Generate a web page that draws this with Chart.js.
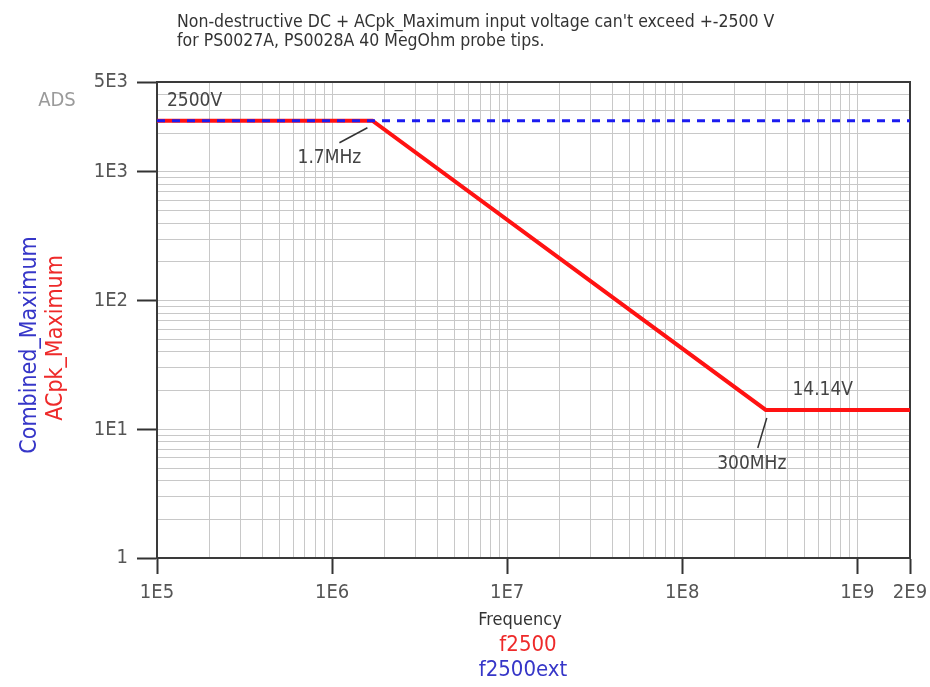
<!DOCTYPE html>
<html>
<head>
<meta charset="utf-8">
<script src="https://cdn.jsdelivr.net/npm/chart.js@4/dist/chart.umd.min.js"></script>
<style>
html, body { margin: 0; padding: 0; background: #fff; }
#wrap { width: 930px; height: 687px; }
</style>
</head>
<body>
<div id="wrap"><canvas id="chart"></canvas></div>
<script>
// red curve: ACpk_Maximum (f2500)
var redFreq = [1e5, 1.7e6, 3e8, 2e9];
var redVolt = [2500, 2500, 14.14, 14.14];
// blue dashed: Combined_Maximum (f2500ext)
var blueFreq = [1e5, 2e9];
var blueVolt = [2500, 2500];

var xTickValues = [1e5, 1e6, 1e7, 1e8, 1e9, 2e9];
var xTickLabels = ['1E5', '1E6', '1E7', '1E8', '1E9', '2E9'];
var yTickValues = [1, 10, 100, 1000, 5000];
var yTickLabels = ['1', '1E1', '1E2', '1E3', '5E3'];

var FONT = "'Liberation Sans Narrow', 'DejaVu Sans Condensed', sans-serif";

// log grid: 1..9 in every decade, clipped to the axis range
function logGrid(min, max) {
    var out = [];
    for (var d = min; d < max; d *= 10) {
        for (var k = 1; k <= 9; k++) {
            if (k * d <= max) out.push(k * d);
        }
    }
    if (out[out.length - 1] !== max) out.push(max);
    return out;
}
var xGrid = logGrid(1e5, 2e9);
var yGrid = logGrid(1, 5000);

function pts(xs, ys) {
    return xs.map(function (x, i) { return { x: x, y: ys[i] }; });
}

var notes = {
    id: 'notes',
    beforeDatasetsDraw: function (chart) {
        var ctx = chart.ctx, a = chart.chartArea;
        ctx.save();
        ctx.strokeStyle = '#3a3a3a';
        ctx.lineWidth = 2;
        ctx.strokeRect(a.left, a.top, a.right - a.left, a.bottom - a.top);
        ctx.restore();
    },
    afterDraw: function (chart) {
        var ctx = chart.ctx, xs = chart.scales.x, ys = chart.scales.y;
        ctx.save();
        ctx.textBaseline = 'alphabetic';

        // title
        ctx.fillStyle = '#333';
        ctx.font = '17.5px ' + FONT;
        ctx.textAlign = 'left';
        ctx.fillText("Non-destructive DC + ACpk_Maximum input voltage can't exceed +-2500 V", 177, 27);
        ctx.fillText('for PS0027A, PS0028A 40 MegOhm probe tips.', 177, 46);

        ctx.textBaseline = 'middle';
        ctx.textAlign = 'center';
        ctx.fillStyle = '#9a9a9a';
        ctx.font = '20px ' + FONT;
        ctx.fillText('ADS', 57, 101);

        // y titles
        ctx.save();
        ctx.translate(30, 345);
        ctx.rotate(-Math.PI / 2);
        ctx.fillStyle = '#3636c8';
        ctx.font = '23px ' + FONT;
        ctx.fillText('Combined_Maximum', 0, 0);
        ctx.restore();
        ctx.save();
        ctx.translate(56, 338);
        ctx.rotate(-Math.PI / 2);
        ctx.fillStyle = '#ee2a2a';
        ctx.font = '23px ' + FONT;
        ctx.fillText('ACpk_Maximum', 0, 0);
        ctx.restore();

        // x titles
        ctx.fillStyle = '#333';
        ctx.font = '18px ' + FONT;
        ctx.fillText('Frequency', 520, 620);
        ctx.fillStyle = '#ee2a2a';
        ctx.font = '22px ' + FONT;
        ctx.fillText('f2500', 528, 645);
        ctx.fillStyle = '#3636c8';
        ctx.fillText('f2500ext', 523, 670);

        // annotations
        ctx.fillStyle = '#444';
        ctx.strokeStyle = '#333';
        ctx.lineWidth = 1.5;
        ctx.font = '19px ' + FONT;
        var x0 = xs.getPixelForValue(redFreq[0]);
        var y0 = ys.getPixelForValue(redVolt[0]);
        ctx.textAlign = 'left';
        ctx.fillText('2500V', x0 + 10, y0 - 20);

        var x1 = xs.getPixelForValue(redFreq[1]);
        var y1 = ys.getPixelForValue(redVolt[1]);
        ctx.beginPath();
        ctx.moveTo(x1 - 5, y1 + 7);
        ctx.lineTo(x1 - 33, y1 + 22);
        ctx.stroke();
        ctx.textAlign = 'center';
        ctx.fillText('1.7MHz', x1 - 43, y1 + 37);

        var x2 = xs.getPixelForValue(redFreq[2]);
        var y2 = ys.getPixelForValue(redVolt[2]);
        ctx.beginPath();
        ctx.moveTo(x2 + 1, y2 + 8);
        ctx.lineTo(x2 - 8, y2 + 38);
        ctx.stroke();
        ctx.fillText('300MHz', x2 - 14, y2 + 54);
        ctx.fillText('14.14V', x2 + 57, y2 - 20);
        ctx.restore();
    }
};

function labelOf(values, labels, v) {
    var i = values.indexOf(v);
    return i >= 0 ? labels[i] : '';
}

var chart = new Chart(document.getElementById('chart'), {
    type: 'line',
    data: {
        datasets: [{
            label: 'f2500ext',
            data: pts(blueFreq, blueVolt),
            borderColor: '#1c1cf0',
            borderWidth: 3,
            borderDash: [8, 7],
            pointRadius: 0,
            fill: false
        }, {
            label: 'f2500',
            data: pts(redFreq, redVolt),
            borderColor: '#ff1212',
            borderWidth: 4,
            pointRadius: 0,
            fill: false
        }]
    },
    options: {
        responsive: true,
        maintainAspectRatio: false,
        animation: false,
        layout: { padding: { top: 82, right: 20, left: 0, bottom: 0 } },
        plugins: { legend: { display: false }, tooltip: { enabled: false } },
        scales: {
            x: {
                type: 'logarithmic',
                min: 1e5,
                max: 2e9,
                afterBuildTicks: function (scale) {
                    scale.ticks = xGrid.map(function (v) { return { value: v }; });
                },
                afterFit: function (scale) {
                    scale.height = 129;
                    scale.paddingRight = 0;
                    scale.paddingLeft = 0;
                },
                ticks: {
                    autoSkip: false,
                    maxRotation: 0,
                    padding: 7,
                    color: '#555',
                    font: { family: FONT, size: 20 },
                    callback: function (v) { return labelOf(xTickValues, xTickLabels, v); }
                },
                grid: {
                    color: '#c8c8c8',
                    lineWidth: 1,
                    tickLength: 16,
                    tickWidth: 2,
                    tickColor: function (c) {
                        return c.tick && xTickValues.indexOf(c.tick.value) >= 0 ? '#333' : 'rgba(0,0,0,0)';
                    }
                },
                border: { color: '#333', width: 2 }
            },
            y: {
                type: 'logarithmic',
                min: 1,
                max: 5000,
                afterBuildTicks: function (scale) {
                    scale.ticks = yGrid.map(function (v) { return { value: v }; });
                },
                afterFit: function (scale) { scale.width = 157; },
                ticks: {
                    autoSkip: false,
                    padding: 9,
                    color: '#555',
                    font: { family: FONT, size: 20 },
                    callback: function (v) { return labelOf(yTickValues, yTickLabels, v); }
                },
                grid: {
                    color: '#c8c8c8',
                    lineWidth: 1,
                    tickLength: 20,
                    tickWidth: 2,
                    tickColor: function (c) {
                        return c.tick && yTickValues.indexOf(c.tick.value) >= 0 ? '#333' : 'rgba(0,0,0,0)';
                    }
                },
                border: { color: '#333', width: 2 }
            }
        }
    },
    plugins: [notes]
});
</script>
</body>
</html>
